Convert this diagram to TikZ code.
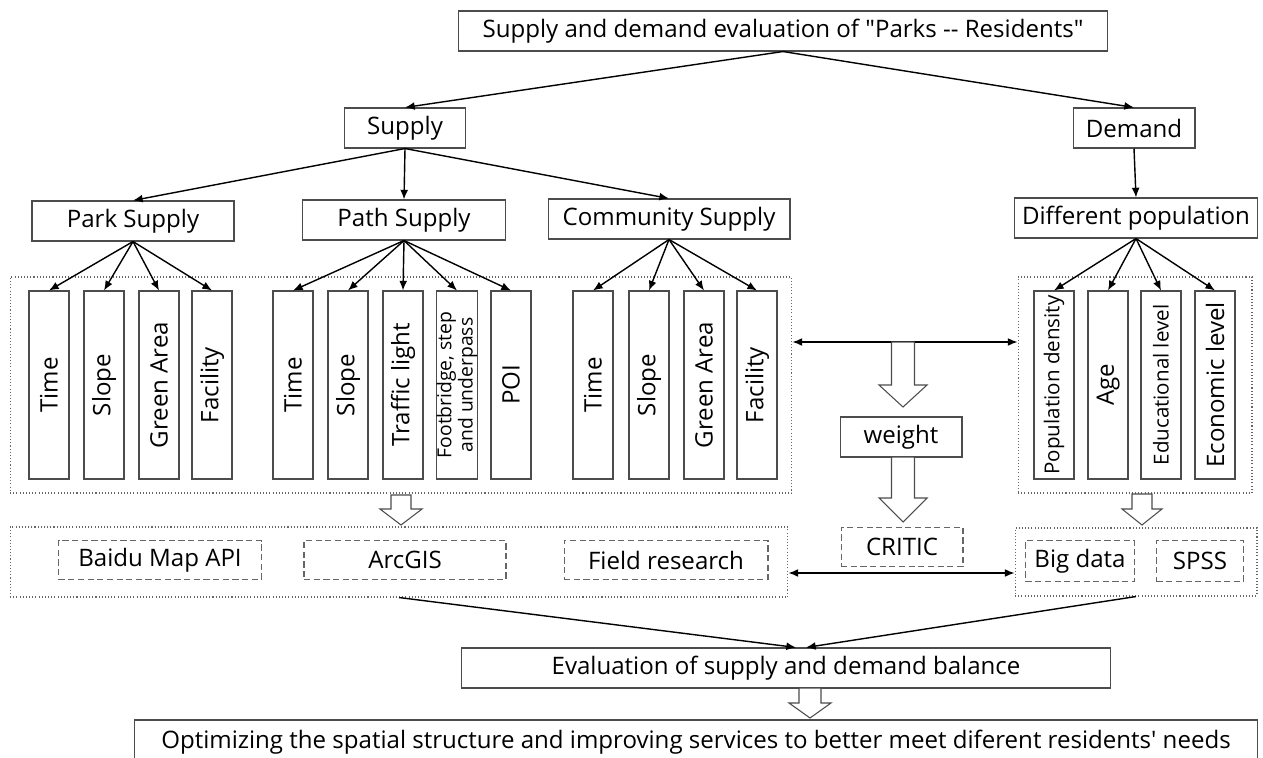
\documentclass[tikz,border=0pt]{standalone}
\usepackage{fontspec}
\setmainfont{Open Sans}
\usetikzlibrary{arrows.meta}

\begin{document}
\begin{tikzpicture}
  [x=0.02cm,y=-0.02cm,>={Latex[length=5.5pt,width=4.5pt]},
   every node/.style={draw=black!70,line width=0.6pt,inner sep=0pt,text=black,font=\fontsize{13.7}{15}\selectfont},
   box/.style={minimum height=0.8cm},
   vbox/.style={rotate=90,minimum width=3.76cm,minimum height=0.8cm},
   small/.style={font=\fontsize{11.7}{12}\selectfont},
   tiny/.style={font=\fontsize{11}{10.3}\selectfont},
   area/.style={draw=black!60,dash pattern=on 0.6pt off 1.2pt},
   tool/.style={draw=black!60,dash pattern=on 3.5pt off 2pt,minimum height=0.78cm},
   link/.style={->,line width=0.8pt}]

  \useasboundingbox (0,0) rectangle (1263,757);
  \clip (0,0) rectangle (1263,757);

  % top levels
  \node[box,minimum width=12.98cm] (top) at (783,31) {Supply and demand evaluation of \textquotedbl Parks -{}- Residents\textquotedbl};
  \node[box,minimum width=2.42cm] (supply) at (405,128) {Supply};
  \node[box,minimum width=2.44cm] (demand) at (1134,128) {Demand};
  \node[box,minimum width=4.04cm] (park) at (133,221) {Park Supply};
  \node[box,minimum width=4.06cm] (path) at (404,220) {Path Supply};
  \node[box,minimum width=4.84cm] (comm) at (669,219) {Community Supply};
  \node[box,minimum width=4.86cm] (popu) at (1136,218) {Different population};

  % indicator areas
  \node[area,minimum width=15.64cm,minimum height=4.32cm] (sup) at (401,385) {};
  \node[area,minimum width=4.68cm,minimum height=4.32cm] (dem) at (1135,385) {};

  \node[vbox] (p1) at (49,385) {Time};
  \node[vbox] (p2) at (104,385) {Slope};
  \node[vbox] (p3) at (159,385) {Green Area};
  \node[vbox] (p4) at (212,385) {Facility};

  \node[vbox] (w1) at (293,385) {Time};
  \node[vbox] (w2) at (348,385) {Slope};
  \node[vbox] (w3) at (403,385) {Traffic light};
  \node[vbox,tiny,align=center] (w4) at (457,385) {Footbridge, step\\and underpass};
  \node[vbox] (w5) at (511,385) {POI};

  \node[vbox] (c1) at (593,385) {Time};
  \node[vbox] (c2) at (649,385) {Slope};
  \node[vbox] (c3) at (704,385) {Green Area};
  \node[vbox] (c4) at (757,385) {Facility};

  \node[vbox,small] (d1) at (1054,385) {Population density};
  \node[vbox] (d2) at (1108,385) {Age};
  \node[vbox,small] (d3) at (1161,385) {Educational level};
  \node[vbox] (d4) at (1215,385) {Economic level};

  \node[box,minimum width=2.44cm] (weight) at (901,437) {weight};

  % methods
  \node[area,minimum width=15.56cm,minimum height=1.4cm] (tools) at (399,562) {};
  \node[area,minimum width=4.84cm,minimum height=1.36cm] (data) at (1136,562) {};
  \node[tool,minimum width=4.06cm] (baidu) at (160,560) {Baidu Map API};
  \node[tool,minimum width=4.04cm] (arcgis) at (405,560) {ArcGIS};
  \node[tool,minimum width=4.08cm] (field) at (666,560) {Field research};
  \node[tool,minimum width=2.44cm] (critic) at (902,547) {CRITIC};
  \node[tool,minimum width=2.18cm,minimum height=0.82cm] (big) at (1080,561) {Big data};
  \node[tool,minimum width=1.74cm,minimum height=0.82cm] (spss) at (1200,561) {SPSS};

  \node[box,minimum width=13cm] (eval) at (786,668) {Evaluation of supply and demand balance};
  \node[box,minimum width=22.46cm,minimum height=0.88cm] (final) at (696,742) {Optimizing the spatial structure and improving services to better meet diferent residents\textquotesingle\ needs};

  % connectors
  \draw[link] (top.south) -- (supply.north);
  \draw[link] (top.south) -- (demand.north);
  \foreach \to in {park,path,comm}
    \draw[link] (supply.south) -- (\to.north);
  \draw[link] (demand.south) -- (popu.north);
  \foreach \to in {p1,p2,p3,p4}
    \draw[link] (park.south) -- (\to.east);
  \foreach \to in {w1,w2,w3,w4,w5}
    \draw[link] (path.south) -- (\to.east);
  \foreach \to in {c1,c2,c3,c4}
    \draw[link] (comm.south) -- (\to.east);
  \foreach \to in {d1,d2,d3,d4}
    \draw[link] (popu.south) -- (\to.east);

  \coordinate (lk1) at (0,342);
  \coordinate (lk2) at (0,573);
  \draw[<->,line width=0.8pt] (sup.east |- lk1) -- (dem.west |- lk1);
  \draw[<->,line width=0.8pt] (tools.east |- lk2) -- (data.west |- lk2);

  \draw[link] (tools.south) -- ([xshift=0.2cm]eval.north);
  \draw[link] (data.south) -- ([xshift=0.4cm]eval.north);

  % hollow arrows
  \foreach \x/\a/\b/\c/\s/\h in {401/495/509/525/10/21, 903/342/385/407/11.5/24, 903/457/498/522/11.5/24, 1142/494/509/525/10/20, 810/688/703/718/11/21}
    \draw[black!70,line width=0.6pt,fill=white] ({\x-\s},\a) -- ({\x-\s},\b) -- ({\x-\h},\b) -- (\x,\c) -- ({\x+\h},\b) -- ({\x+\s},\b) -- ({\x+\s},\a) -- cycle;
\end{tikzpicture}
\end{document}
